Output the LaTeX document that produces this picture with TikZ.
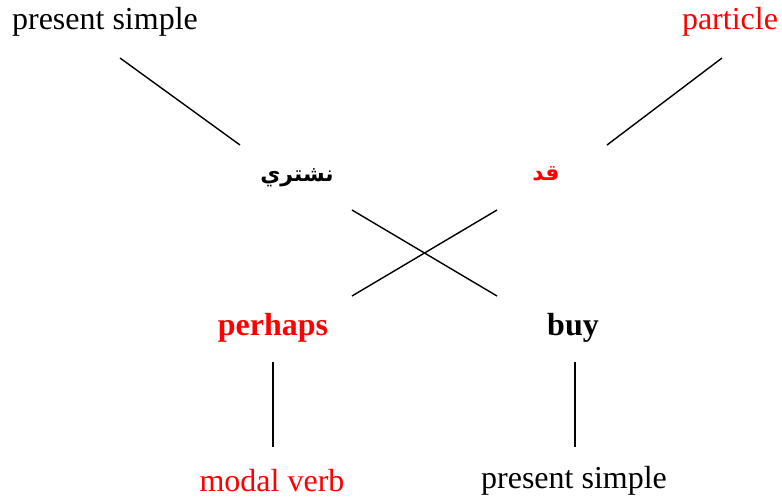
\documentclass[tikz,border=0pt]{standalone}
\usepackage{fontspec}
\setmainfont{Liberation Serif}
\newfontfamily\arabicfont[Script=Arabic]{DejaVu Sans}
\TeXXeTstate=1
\usetikzlibrary{positioning}
\definecolor{gRed}{HTML}{FF0000}
\tikzset{
  gword/.style={inner sep=1pt, font=\fontsize{16}{19}\selectfont},
  glabel/.style={inner sep=1pt, font=\fontsize{16}{19}\selectfont},
  gline/.style={black, line width=0.7pt},
}
\begin{document}
\begin{tikzpicture}[x=0.5pt, y=-0.5pt]
    \useasboundingbox (0,0) rectangle (782,500);
    % labels at the top
    \node[glabel] (ps1)  at (105,22) {present simple};
    \node[glabel, text=gRed] (part) at (730,22) {particle};
    % arabic words
    \node[gword] (nasht) at (297,178) {\arabicfont\bfseries\fontsize{11}{14}\selectfont\beginR نشتري\endR};
    \node[gword, text=gRed] (qad) at (546,174) {\arabicfont\bfseries\fontsize{11}{14}\selectfont\beginR قد\endR};
    % english words
    \node[gword, text=gRed] (perh) at (273,328) {\bfseries perhaps};
    \node[gword] (buy) at (573,328) {\bfseries buy};
    % labels at the bottom
    \node[glabel, text=gRed] (modal) at (272,481) {modal verb};
    \node[glabel] (ps2) at (574,481) {present simple};
    % line ends
    \coordinate (a1) at (120,58);  \coordinate (a2) at (240,145);
    \coordinate (b1) at (722,58);  \coordinate (b2) at (607,145);
    \coordinate (c1) at (352,210); \coordinate (c2) at (497,296);
    \coordinate (d1) at (497,210); \coordinate (d2) at (352,296);
    \coordinate (e1) at (273,362); \coordinate (e2) at (273,447);
    \coordinate (f1) at (575,362); \coordinate (f2) at (575,447);
    \draw[gline] (a1) -- (a2);
    \draw[gline] (b1) -- (b2);
    \draw[gline] (c1) -- (c2);
    \draw[gline] (d1) -- (d2);
    \draw[gline] (e1) -- (e2);
    \draw[gline] (f1) -- (f2);
\end{tikzpicture}
\end{document}
